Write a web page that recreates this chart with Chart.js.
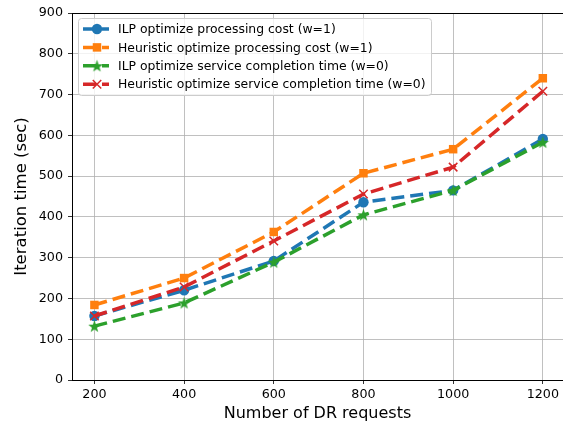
<!DOCTYPE html>
<html><head><meta charset="utf-8">
<script src="https://cdn.jsdelivr.net/npm/chart.js@4/dist/chart.umd.min.js"></script>
<style>html,body{margin:0;padding:0;background:#fff}#wrap{width:563px;height:423px}</style>
</head><body><div id="wrap"><canvas id="c" width="563" height="423"></canvas></div>
<script>
const requests = [200, 400, 600, 800, 1000, 1200];
const ilpCost = [157, 220, 292, 436, 465, 591];
const heurCost = [184, 250, 363, 507, 566, 740];
const ilpTime = [132, 189, 289, 405, 465, 583];
const heurTime = [157, 228, 341, 456, 522, 708];
const seriesNames = [
  'ILP optimize processing cost (w=1)',
  'Heuristic optimize processing cost (w=1)',
  'ILP optimize service completion time (w=0)',
  'Heuristic optimize service completion time (w=0)'
];
const colors = ['#1f77b4', '#ff7f0e', '#2ca02c', '#d62728'];
const FONT = "'DejaVu Sans', sans-serif";

function starCanvas(color, r) {
  const c = document.createElement('canvas');
  const s = Math.ceil(r * 2 + 2);
  c.width = s; c.height = s;
  const g = c.getContext('2d');
  g.fillStyle = color;
  g.beginPath();
  for (let i = 0; i < 10; i++) {
    const rr = i % 2 === 0 ? r : r * 0.4;
    const a = -Math.PI / 2 + i * Math.PI / 5;
    const x = s / 2 + rr * Math.cos(a), y = s / 2 + rr * Math.sin(a) + 0.6;
    i ? g.lineTo(x, y) : g.moveTo(x, y);
  }
  g.closePath(); g.fill();
  return c;
}
const star = starCanvas(colors[2], 6.5);

function pts(arr) { return requests.map((x, i) => ({x, y: arr[i]})); }
const styles = [
  {pointStyle: 'circle', radius: 5.2},
  {pointStyle: 'rect', radius: 6},
  {pointStyle: star, radius: 6},
  {pointStyle: 'crossRot', radius: 6}
];
const allData = [ilpCost, heurCost, ilpTime, heurTime];
const datasets = allData.map((d, i) => ({
  label: seriesNames[i],
  data: pts(d),
  borderColor: colors[i],
  backgroundColor: colors[i],
  borderWidth: 3.5,
  borderDash: [13, 6],
  pointStyle: styles[i].pointStyle,
  pointRadius: styles[i].radius,
  pointBorderWidth: i === 3 ? 1.5 : 0,
  pointBorderColor: colors[i],
  pointBackgroundColor: colors[i],
  fill: false,
  tension: 0,
  clip: false,
  order: 3 - i
}));

const legendPlugin = {
  id: 'mlLegend',
  afterDatasetsDraw(chart) {
    const ctx = chart.ctx;
    const x0 = 78, y0 = 18, w = 353, h = 77;
    ctx.save();
    ctx.globalAlpha = 0.8;
    ctx.fillStyle = '#fff';
    ctx.beginPath(); ctx.roundRect(x0, y0, w, h, 3); ctx.fill();
    ctx.globalAlpha = 1;
    ctx.strokeStyle = '#cccccc'; ctx.lineWidth = 1;
    ctx.beginPath(); ctx.roundRect(x0 + 0.5, y0 + 0.5, w, h, 3); ctx.stroke();
    ctx.font = '12.4px ' + FONT;
    ctx.textBaseline = 'middle';
    for (let i = 0; i < 4; i++) {
      const y = 29 + i * 18.4;
      ctx.strokeStyle = colors[i]; ctx.lineWidth = 3.5;
      ctx.setLineDash([13, 6]);
      ctx.beginPath(); ctx.moveTo(83, y); ctx.lineTo(109, y); ctx.stroke();
      ctx.setLineDash([]);
      const ds = chart.data.datasets[i];
      ctx.fillStyle = colors[i]; ctx.strokeStyle = colors[i];
      ctx.lineWidth = ds.pointBorderWidth || 1;
      Chart.helpers.drawPoint(ctx, {
        pointStyle: ds.pointStyle, radius: ds.pointRadius, rotation: 0,
        borderWidth: ds.pointBorderWidth
      }, 97, y);
      ctx.fillStyle = '#000';
      ctx.fillText(seriesNames[i], 118, y + 1);
    }
    ctx.restore();
  }
};

const spinePlugin = {
  id: 'spine',
  afterDraw(chart) {
    const a = chart.chartArea, ctx = chart.ctx;
    ctx.save(); ctx.strokeStyle = '#000'; ctx.lineWidth = 1;
    ctx.beginPath(); ctx.moveTo(a.left, a.top + 0.5); ctx.lineTo(a.right, a.top + 0.5); ctx.stroke();
    ctx.restore();
  }
};

new Chart(document.getElementById('c'), {
  type: 'line',
  data: {datasets},
  options: {
    responsive: false, animation: false, devicePixelRatio: 1,
    layout: {autoPadding: false, padding: {top: 13, right: 0, left: 0, bottom: 0}},
    plugins: {legend: {display: false}, tooltip: {enabled: false}},
    scales: {
      x: {
        type: 'linear', min: 150, max: 1245,
        afterBuildTicks(s) { s.ticks = requests.map(v => ({value: v})); },
        afterFit(s) { s.height = 43; s.paddingRight = 0; s.paddingLeft = 0; },
        grid: {color: '#b0b0b0', lineWidth: 0.8, tickColor: '#000', tickLength: 4, drawOnChartArea: true},
        border: {color: '#000', width: 1},
        ticks: {color: '#000', font: {family: FONT, size: 12.7}, padding: 3, callback: v => String(v)},
        title: {display: true, text: 'Number of DR requests', color: '#000', font: {family: FONT, size: 16}, padding: {top: 0, bottom: 0}}
      },
      y: {
        min: 0, max: 900,
        afterFit(s) { s.width = 72; s.paddingTop = 0; s.paddingBottom = 0; },
        grid: {color: '#b0b0b0', lineWidth: 0.8, tickColor: '#000', tickLength: 4},
        border: {color: '#000', width: 1},
        ticks: {stepSize: 100, color: '#000', font: {family: FONT, size: 12.7}, padding: 5, callback: v => String(v)},
        title: {display: true, text: 'Iteration time (sec)', color: '#000', font: {family: FONT, size: 16.5}, padding: {top: 12, bottom: 0}}
      }
    }
  },
  plugins: [legendPlugin, spinePlugin]
});
</script></body></html>
